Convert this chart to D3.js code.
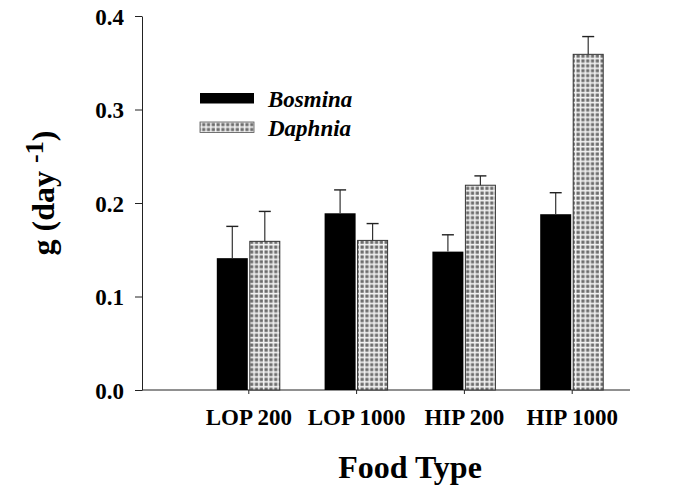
<!DOCTYPE html>
<html><head><meta charset="utf-8">
<script src="https://cdn.jsdelivr.net/npm/d3@7"></script>
<style>html,body{margin:0;padding:0;background:#fff;}svg{display:block;}</style>
</head><body>
<svg id="chart" width="686" height="489"></svg>
<script>
const categories = ["LOP 200", "LOP 1000", "HIP 200", "HIP 1000"];
const seriesNames = ["Bosmina", "Daphnia"];
const bosmina = [0.141, 0.189, 0.148, 0.188];
const bosminaErr = [0.034, 0.025, 0.018, 0.023];
const daphnia = [0.159, 0.160, 0.219, 0.359];
const daphniaErr = [0.032, 0.018, 0.010, 0.019];
const yTicks = [0.0, 0.1, 0.2, 0.3, 0.4];

const svg = d3.select("#chart");
const font = "'Liberation Serif','Times New Roman',serif";

const defs = svg.append("defs");
const pat = defs.append("pattern").attr("id","dots").attr("patternUnits","userSpaceOnUse")
  .attr("width",4.8).attr("height",4.9);
pat.append("rect").attr("width",4.8).attr("height",4.9).attr("fill","#f2f2f2");
pat.append("rect").attr("x",0.5).attr("y",0.5).attr("width",3.2).attr("height",3.2).attr("fill","#6c6c6c");

const y = d3.scaleLinear().domain([0, 0.4]).range([390, 16]);
const x = d3.scalePoint().domain(categories).range([248.3, 571.7]);
const axisLeftX = 142, axisRightX = 630;

// Y axis
const yAxis = svg.append("g").attr("transform", `translate(${axisLeftX},0)`)
  .call(d3.axisLeft(y).tickValues(yTicks).tickFormat(d3.format(".1f")).tickSize(7).tickSizeOuter(0).tickPadding(11));
yAxis.select(".domain").attr("stroke","#222").attr("stroke-width",1);
yAxis.selectAll(".tick line").attr("stroke","#222");
yAxis.selectAll("text").attr("font-family",font).attr("font-weight","bold").attr("font-size",23).attr("fill","#000")
  .attr("dy","0.35em");

// X axis
const xAxis = svg.append("g").attr("transform", `translate(0,${y(0)})`)
  .call(d3.axisBottom(x).tickSize(4).tickSizeOuter(0).tickPadding(15));
xAxis.select(".domain").remove();
xAxis.append("line").attr("x1",axisLeftX).attr("x2",axisRightX).attr("y1",0).attr("y2",0).attr("stroke","#222");
xAxis.selectAll(".tick line").attr("stroke","#222");
xAxis.selectAll("text").attr("font-family",font).attr("font-weight","bold").attr("font-size",23).attr("fill","#000");

const bw = 31;
// Bars
const g = svg.append("g");
g.selectAll("rect.bos").data(categories).join("rect").attr("class","bos")
  .attr("x", d => x(d) - 31.5).attr("width", bw)
  .attr("y", (d,i) => y(bosmina[i])).attr("height", (d,i) => y(0) - y(bosmina[i]))
  .attr("fill","#000");
g.selectAll("rect.dap").data(categories).join("rect").attr("class","dap")
  .attr("x", d => x(d) + 1.5).attr("width", bw - 1)
  .attr("y", (d,i) => y(daphnia[i])).attr("height", (d,i) => y(0) - y(daphnia[i]))
  .attr("fill","url(#dots)").attr("stroke","#333").attr("stroke-width",1);

// Error bars
function err(vals, errs, off, cls){
  const eg = g.selectAll("g."+cls).data(categories).join("g").attr("class",cls);
  eg.append("line").attr("x1", d => x(d)+off).attr("x2", d => x(d)+off)
    .attr("y1", (d,i) => y(vals[i])).attr("y2", (d,i) => y(vals[i]+errs[i]))
    .attr("stroke","#333").attr("stroke-width",1.2);
  eg.append("line").attr("x1", d => x(d)+off-6).attr("x2", d => x(d)+off+6)
    .attr("y1", (d,i) => y(vals[i]+errs[i])).attr("y2", (d,i) => y(vals[i]+errs[i]))
    .attr("stroke","#222").attr("stroke-width",1.4);
}
err(bosmina, bosminaErr, -16, "eb");
err(daphnia, daphniaErr, 16.5, "ed");

// Legend
const leg = svg.append("g");
const fills = ["#000", "url(#dots)"];
const lys = [93, 122];
seriesNames.forEach((n,i) => {
  leg.append("rect").attr("x",200).attr("y",lys[i]).attr("width",54).attr("height",10.5)
    .attr("fill",fills[i]).attr("stroke", i ? "#555" : "none").attr("stroke-width",0.8);
  leg.append("text").attr("x",268).attr("y",lys[i]+14).text(n)
    .attr("font-family",font).attr("font-weight","bold").attr("font-style","italic").attr("font-size",23);
});

// Axis titles
svg.append("text").attr("x",410).attr("y",478).attr("text-anchor","middle")
  .attr("font-family",font).attr("font-weight","bold").attr("font-size",32).text("Food Type");
const yt = svg.append("text").attr("transform","translate(54,193) rotate(-90)").attr("text-anchor","middle")
  .attr("font-family",font).attr("font-weight","bold").attr("font-size",32);
yt.append("tspan").text("g (day ");
yt.append("tspan").attr("dy",-11).attr("font-size",26).text("-1");
yt.append("tspan").attr("dy",11).text(")");
</script>
</body></html>
